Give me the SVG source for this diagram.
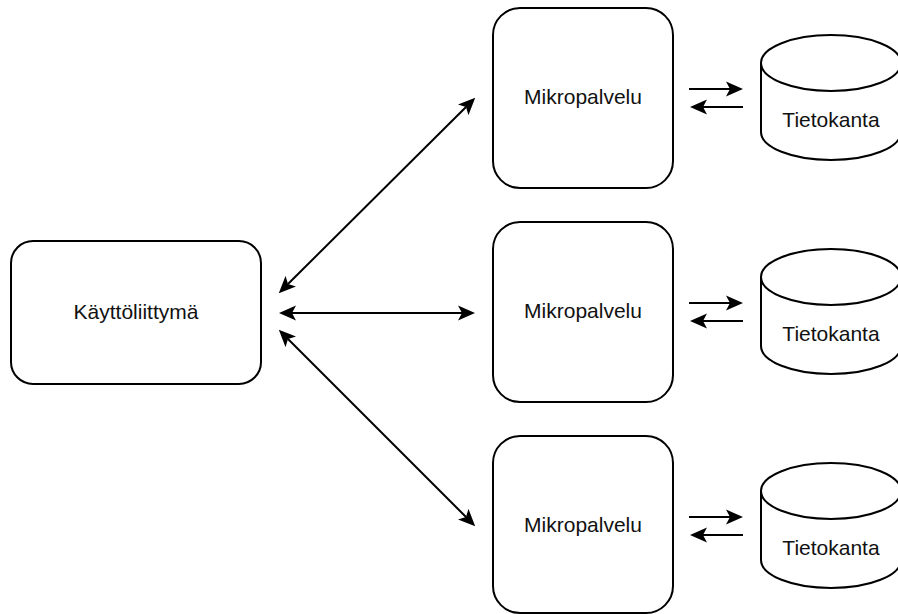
<svg xmlns="http://www.w3.org/2000/svg" width="898" height="614" viewBox="0 0 898 614">
<style>
.box{fill:#fff;stroke:#000;stroke-width:2}
.lbl{font-family:"Liberation Sans",Arial,sans-serif;font-size:21px;fill:#111;text-anchor:middle}
.con{fill:none;stroke:#000;stroke-width:2}
.dbl{marker-start:url(#ah);marker-end:url(#ah)}
.one{marker-end:url(#ah)}
</style>
<defs>
<marker id="ah" markerUnits="userSpaceOnUse" viewBox="0 0 17 16" markerWidth="17" markerHeight="16" refX="4" refY="8" orient="auto-start-reverse">
<path d="M0,0.5 L17,8 L0,15.5 L4,8 Z" fill="#000"/>
</marker>
</defs>
<rect width="898" height="614" fill="#fff"/>
<g id="ui">
<rect class="box" x="11" y="241" width="250" height="143" rx="22" ry="22"/>
<text class="lbl" x="136" y="319">Käyttöliittymä</text>
</g>
<g id="ms1">
<rect class="box" x="493" y="8" width="180" height="180" rx="27" ry="27"/>
<text class="lbl" x="583" y="104">Mikropalvelu</text>
</g>
<g id="ms2">
<rect class="box" x="493" y="222" width="180" height="180" rx="27" ry="27"/>
<text class="lbl" x="583" y="318">Mikropalvelu</text>
</g>
<g id="ms3">
<rect class="box" x="493" y="436" width="180" height="177" rx="27" ry="27"/>
<text class="lbl" x="583" y="532">Mikropalvelu</text>
</g>
<g id="db1">
<path class="box" d="M761,63 a70,28 0 0 1 140,0 v69 a70,28 0 0 1 -140,0 Z"/>
<path class="box" fill="none" d="M761,63 a70,28 0 0 0 140,0"/>
<text class="lbl" x="831" y="127">Tietokanta</text>
</g>
<g id="db2">
<path class="box" d="M761,277 a70,28 0 0 1 140,0 v69 a70,28 0 0 1 -140,0 Z"/>
<path class="box" fill="none" d="M761,277 a70,28 0 0 0 140,0"/>
<text class="lbl" x="831" y="341">Tietokanta</text>
</g>
<g id="db3">
<path class="box" d="M761,491 a70,28 0 0 1 140,0 v69 a70,28 0 0 1 -140,0 Z"/>
<path class="box" fill="none" d="M761,491 a70,28 0 0 0 140,0"/>
<text class="lbl" x="831" y="555">Tietokanta</text>
</g>
<g id="connectors">
<line class="con dbl" x1="288" y1="284" x2="466" y2="107"/>
<line class="con dbl" x1="292" y1="313" x2="462" y2="313"/>
<line class="con dbl" x1="288" y1="339" x2="466" y2="517"/>
<line class="con one" x1="689" y1="89" x2="730" y2="89"/>
<line class="con one" x1="743" y1="107" x2="703" y2="107"/>
<line class="con one" x1="689" y1="303" x2="730" y2="303"/>
<line class="con one" x1="743" y1="321" x2="703" y2="321"/>
<line class="con one" x1="689" y1="517" x2="730" y2="517"/>
<line class="con one" x1="743" y1="535" x2="703" y2="535"/>
</g>
</svg>
